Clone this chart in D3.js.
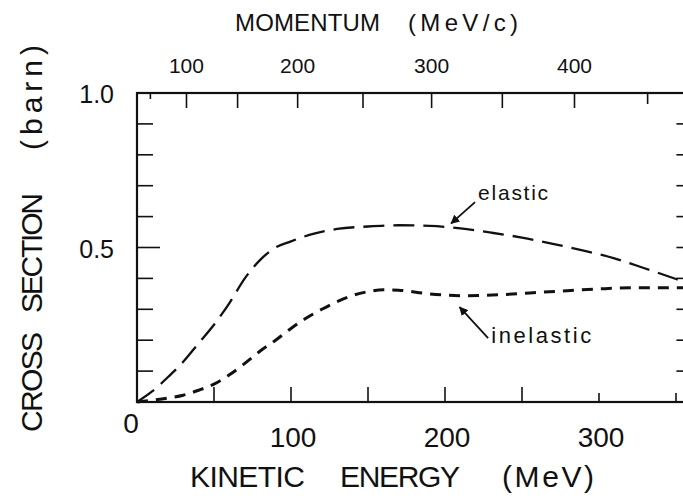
<!DOCTYPE html>
<html>
<head>
  <meta charset="utf-8">
  <script src="https://d3js.org/d3.v7.min.js"></script>
  <style>
    body { margin: 0; background: #fff; }
    text { font-family: "Liberation Sans", Arial, sans-serif; fill: #111; }
  </style>
</head>
<body>
  <div id="chart"></div>
  <script>
    // kinetic energy (MeV) and cross sections (barn)
    var elasticT = [0, 10, 20, 30, 40, 50, 60, 70, 80, 90, 100, 115, 130, 150, 170, 190, 210, 230, 250, 270, 290, 310, 330, 350, 360];
    var elasticSigma = [0, 0.035, 0.08, 0.13, 0.19, 0.25, 0.32, 0.40, 0.46, 0.50, 0.52, 0.545, 0.56, 0.568, 0.572, 0.57, 0.562, 0.548, 0.532, 0.512, 0.49, 0.465, 0.432, 0.398, 0.38];

    var inelasticT = [0, 10, 20, 30, 40, 50, 60, 70, 80, 90, 100, 110, 120, 130, 140, 150, 160, 170, 180, 190, 200, 215, 235, 255, 275, 300, 325, 350, 360];
    var inelasticSigma = [0, 0.006, 0.013, 0.022, 0.038, 0.058, 0.088, 0.125, 0.165, 0.2, 0.238, 0.272, 0.3, 0.325, 0.345, 0.357, 0.363, 0.362, 0.356, 0.35, 0.346, 0.344, 0.347, 0.353, 0.359, 0.366, 0.37, 0.37, 0.368];

    var energyTicks = [50, 100, 150, 200, 250, 300, 350];
    var energyLabels = [0, 100, 200, 300];
    var sigmaTicks = [0.1, 0.2, 0.3, 0.4, 0.5, 0.6, 0.7, 0.8, 0.9];
    var sigmaLabels = [0.5, 1.0];
    var momentumTicks = [50, 100, 150, 200, 250, 300, 350, 400, 450];
    var momentumLabels = [100, 200, 300, 400];

    var pionMass = 139.57; // MeV, to put momentum ticks on the energy axis
    function momentumToEnergy(p) { return Math.sqrt(p * p + pionMass * pionMass) - pionMass; }

    var margin = {top: 93, left: 137};
    var width = 554.4, height = 309;

    var x = d3.scaleLinear().domain([0, 360]).range([0, width]);
    var y = d3.scaleLinear().domain([0, 1]).range([height, 0]);

    var svg = d3.select('#chart').append('svg')
        .attr('width', 683).attr('height', 500);
    var g = svg.append('g')
        .attr('transform', 'translate(' + margin.left + ',' + margin.top + ')');

    // frame
    g.append('rect')
      .attr('x', 0).attr('y', 0).attr('width', width).attr('height', height)
      .attr('fill', 'none').attr('stroke', '#111').attr('stroke-width', 2.2);

    // bottom ticks (the last two are drawn shorter in the original)
    g.selectAll('.bt').data(energyTicks).enter().append('line')
      .attr('x1', function(d) { return x(d); }).attr('x2', function(d) { return x(d); })
      .attr('y1', height).attr('y2', function(d) { return d >= 300 ? height - 9 : height - 15; })
      .attr('stroke', '#111').attr('stroke-width', 1.6);

    // top ticks (momentum)
    g.selectAll('.tt').data(momentumTicks).enter().append('line')
      .attr('x1', function(d) { return x(momentumToEnergy(d)); })
      .attr('x2', function(d) { return x(momentumToEnergy(d)); })
      .attr('y1', 0).attr('y2', function(d) { return d === 50 ? 6 : (d === 450 ? 11 : 15); })
      .attr('stroke', '#111').attr('stroke-width', 1.6);

    // left and right ticks
    g.selectAll('.lt').data(sigmaTicks).enter().append('line')
      .attr('x1', 0).attr('x2', function(d) { return d === 0.5 ? 23 : 16; })
      .attr('y1', function(d) { return y(d); }).attr('y2', function(d) { return y(d); })
      .attr('stroke', '#111').attr('stroke-width', 1.6);
    g.selectAll('.rt').data(sigmaTicks).enter().append('line')
      .attr('x1', width).attr('x2', width - 15)
      .attr('y1', function(d) { return y(d); }).attr('y2', function(d) { return y(d); })
      .attr('stroke', '#111').attr('stroke-width', 1.6);

    // tick labels
    g.selectAll('.bl').data(energyLabels).enter().append('text')
      .attr('x', function(d) { return d === 0 ? x(d) - 6 : x(d) + 2; })
      .attr('y', function(d) { return d === 0 ? height + 31 : height + 45; })
      .attr('text-anchor', 'middle').attr('font-size', 28)
      .text(function(d) { return d; });

    g.selectAll('.tl').data(momentumLabels).enter().append('text')
      .attr('x', function(d) { return x(momentumToEnergy(d)); })
      .attr('y', -20)
      .attr('text-anchor', 'middle').attr('font-size', 21)
      .text(function(d) { return d; });

    g.selectAll('.ll').data(sigmaLabels).enter().append('text')
      .attr('x', -23)
      .attr('y', function(d) { return y(d) + 10; })
      .attr('text-anchor', 'end').attr('font-size', 25)
      .text(function(d) { return d.toFixed(1); });

    // curves
    var line = d3.line()
      .x(function(d) { return x(d[0]); })
      .y(function(d) { return y(d[1]); })
      .curve(d3.curveMonotoneX);

    g.append('path')
      .datum(d3.zip(elasticT, elasticSigma))
      .attr('d', line)
      .attr('fill', 'none').attr('stroke', '#111')
      .attr('stroke-width', 2.3).attr('stroke-dasharray', '21,9');

    g.append('path')
      .datum(d3.zip(inelasticT, inelasticSigma))
      .attr('d', line)
      .attr('fill', 'none').attr('stroke', '#111')
      .attr('stroke-width', 3).attr('stroke-dasharray', '11,8');

    // annotations
    svg.append('defs').append('marker')
      .attr('id', 'head').attr('viewBox', '0 0 10 10')
      .attr('refX', 9).attr('refY', 5)
      .attr('markerWidth', 9).attr('markerHeight', 9)
      .attr('markerUnits', 'userSpaceOnUse')
      .attr('orient', 'auto')
      .append('path').attr('d', 'M0,0 L10,5 L0,10 Z').attr('fill', '#111');

    g.append('line')
      .attr('x1', x(219.5)).attr('y1', y(0.647))
      .attr('x2', x(204)).attr('y2', y(0.578))
      .attr('stroke', '#111').attr('stroke-width', 1.8)
      .attr('marker-end', 'url(#head)');
    g.append('text')
      .attr('x', x(221.5)).attr('y', y(0.654))
      .attr('font-size', 21).attr('textLength', 70).attr('lengthAdjust', 'spacing')
      .text('elastic');

    g.append('line')
      .attr('x1', x(228)).attr('y1', y(0.207))
      .attr('x2', x(209.5)).attr('y2', y(0.307))
      .attr('stroke', '#111').attr('stroke-width', 1.8)
      .attr('marker-end', 'url(#head)');
    g.append('text')
      .attr('x', x(230)).attr('y', y(0.19))
      .attr('font-size', 22).attr('textLength', 100).attr('lengthAdjust', 'spacing')
      .text('inelastic');

    // axis titles
    var titles = [
      {t: 'KINETIC', x: 190, y: 487, len: 115},
      {t: 'ENERGY', x: 340, y: 487, len: 120},
      {t: '(MeV)', x: 502, y: 487, len: 92},
      {t: 'MOMENTUM', x: 235, y: 31, len: 145, size: 24},
      {t: '(MeV/c)', x: 408, y: 31, len: 110, size: 24}
    ];
    svg.selectAll('.title').data(titles).enter().append('text')
      .attr('x', function(d) { return d.x; }).attr('y', function(d) { return d.y; })
      .attr('font-size', function(d) { return d.size || 30; })
      .attr('textLength', function(d) { return d.len; })
      .attr('lengthAdjust', 'spacing')
      .text(function(d) { return d.t; });

    var yTitles = [
      {t: 'CROSS', y: 432, len: 100},
      {t: 'SECTION', y: 313, len: 120},
      {t: '(barn)', y: 150, len: 105}
    ];
    svg.selectAll('.ytitle').data(yTitles).enter().append('text')
      .attr('transform', function(d) { return 'translate(42,' + d.y + ') rotate(-90)'; })
      .attr('font-size', 30)
      .attr('textLength', function(d) { return d.len; })
      .attr('lengthAdjust', 'spacing')
      .text(function(d) { return d.t; });
  </script>
</body>
</html>
